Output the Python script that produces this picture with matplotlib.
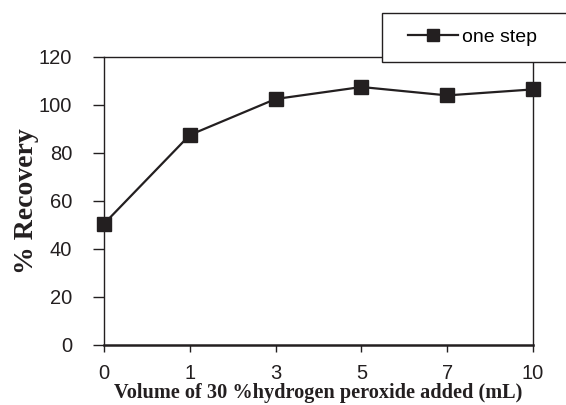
import matplotlib
matplotlib.use("Agg")
import matplotlib.pyplot as plt
from matplotlib.patches import Rectangle
from matplotlib.lines import Line2D

# volume of H2O2 added (mL) and recovery (%)
volumes = ['0', '1', '3', '5', '7', '10']
recovery = [50.5, 87.5, 102.5, 107.5, 104.0, 106.5]

ink = '#231f20'

fig = plt.figure(figsize=(5.66, 4.05), dpi=100)
ax = fig.add_axes([104/566, 1 - 345/405, (533 - 104)/566, (345 - 57)/405])

pos = range(len(volumes))
ax.plot(pos, recovery, color=ink, lw=1.6, marker='s', ms=10,
        markerfacecolor=ink, markeredgecolor=ink,
        label='one step', clip_on=False, zorder=3)

ax.set_xlim(0, len(volumes) - 1)
ax.set_ylim(0, 120)
ax.set_yticks(range(0, 121, 20))
ax.set_xticks(list(pos))
ax.set_xticklabels(volumes)

for s in ax.spines.values():
    s.set_color(ink)
    s.set_linewidth(1.0)
ax.spines['bottom'].set_linewidth(1.8)

ax.tick_params(axis='y', direction='out', length=8, width=1, pad=15,
               labelsize=14.5, labelcolor=ink, color=ink)
ax.tick_params(axis='x', direction='out', length=5, width=1, pad=9,
               labelsize=14.5, labelcolor=ink, color=ink)
for lab in ax.get_xticklabels() + ax.get_yticklabels():
    lab.set_family('Liberation Sans')

ax.set_xlabel('Volume of 30 %hydrogen peroxide added (mL)', family='Liberation Serif',
              fontweight='bold', fontsize=14.6, labelpad=0, color=ink)
ax.set_ylabel('% Recovery', family='Liberation Serif', fontweight='bold',
              fontsize=20, labelpad=0, color=ink)

# legend box sticking out at the top right
box = Rectangle((382/566, 1 - 62/405), 0.4, (62 - 13)/405, transform=fig.transFigure,
                facecolor='white', edgecolor=ink, lw=1.0, zorder=5)
fig.add_artist(box)
handle = Line2D([], [], color=ink, lw=1.6, marker='s', ms=8,
                markerfacecolor=ink, markeredgecolor=ink)
leg = fig.legend([handle], ['one step'], loc='center left',
                 bbox_to_anchor=(398/566, 1 - 37/405), frameon=False,
                 prop={'family': 'Liberation Sans', 'size': 14}, handlelength=2.6,
                 handletextpad=0.2, borderpad=0)
leg.set_zorder(6)

fig.savefig('out.png', dpi=100)
